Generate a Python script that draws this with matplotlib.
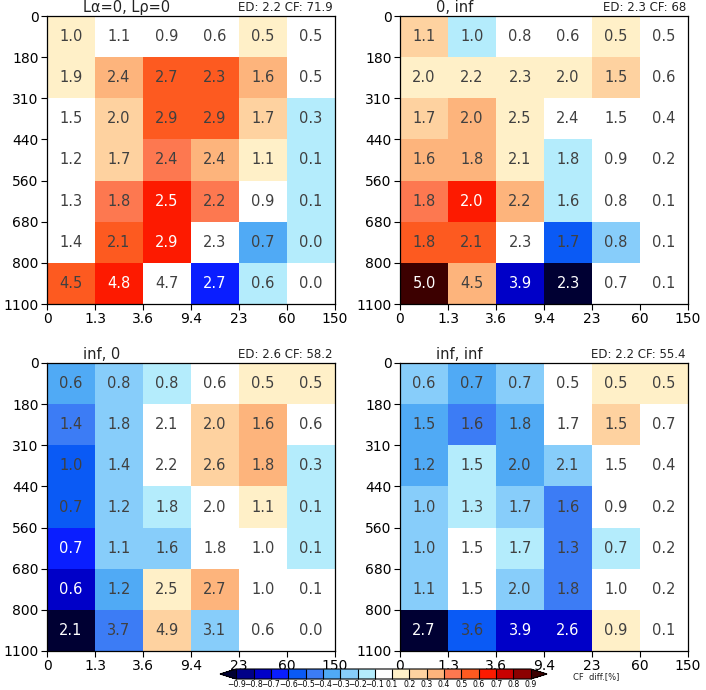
import matplotlib
matplotlib.use("Agg")
import matplotlib.pyplot as plt
from matplotlib.colors import ListedColormap, BoundaryNorm
import numpy as np

x_labels = ["0", "1.3", "3.6", "9.4", "23", "60", "150"]
y_labels = ["0", "180", "310", "440", "560", "680", "800", "1100"]

levels = [-0.9, -0.8, -0.7, -0.6, -0.5, -0.4, -0.3, -0.2, -0.1,
          0.1, 0.2, 0.3, 0.4, 0.5, 0.6, 0.7, 0.8, 0.9]
level_colors = ["#000088", "#0000c8", "#0a1eff", "#0a5af5", "#3c7cf5",
                "#50aaf5", "#87cdfa", "#b4ecfc", "#ffffff", "#fff0c8",
                "#fed2a0", "#fdb47c", "#fd7850", "#fd5a20", "#fd1a00",
                "#c80000", "#8c0000"]
under_color = "#000033"
over_color = "#3c0000"

titles = ["L\u03b1=0, L\u03c1=0", "0, inf", "inf, 0", "inf, inf"]
ed_vals = ["2.2", "2.3", "2.6", "2.2"]
cf_vals = ["71.9", "68", "58.2", "55.4"]

# numbers printed in each cell (rows top to bottom)
text_p1 = [[1.0, 1.1, 0.9, 0.6, 0.5, 0.5],
           [1.9, 2.4, 2.7, 2.3, 1.6, 0.5],
           [1.5, 2.0, 2.9, 2.9, 1.7, 0.3],
           [1.2, 1.7, 2.4, 2.4, 1.1, 0.1],
           [1.3, 1.8, 2.5, 2.2, 0.9, 0.1],
           [1.4, 2.1, 2.9, 2.3, 0.7, 0.0],
           [4.5, 4.8, 4.7, 2.7, 0.6, 0.0]]
text_p2 = [[1.1, 1.0, 0.8, 0.6, 0.5, 0.5],
           [2.0, 2.2, 2.3, 2.0, 1.5, 0.6],
           [1.7, 2.0, 2.5, 2.4, 1.5, 0.4],
           [1.6, 1.8, 2.1, 1.8, 0.9, 0.2],
           [1.8, 2.0, 2.2, 1.6, 0.8, 0.1],
           [1.8, 2.1, 2.3, 1.7, 0.8, 0.1],
           [5.0, 4.5, 3.9, 2.3, 0.7, 0.1]]
text_p3 = [[0.6, 0.8, 0.8, 0.6, 0.5, 0.5],
           [1.4, 1.8, 2.1, 2.0, 1.6, 0.6],
           [1.0, 1.4, 2.2, 2.6, 1.8, 0.3],
           [0.7, 1.2, 1.8, 2.0, 1.1, 0.1],
           [0.7, 1.1, 1.6, 1.8, 1.0, 0.1],
           [0.6, 1.2, 2.5, 2.7, 1.0, 0.1],
           [2.1, 3.7, 4.9, 3.1, 0.6, 0.0]]
text_p4 = [[0.6, 0.7, 0.7, 0.5, 0.5, 0.5],
           [1.5, 1.6, 1.8, 1.7, 1.5, 0.7],
           [1.2, 1.5, 2.0, 2.1, 1.5, 0.4],
           [1.0, 1.3, 1.7, 1.6, 0.9, 0.2],
           [1.0, 1.5, 1.7, 1.3, 0.7, 0.2],
           [1.1, 1.5, 2.0, 1.8, 1.0, 0.2],
           [2.7, 3.6, 3.9, 2.6, 0.9, 0.1]]

# CF differences shading each cell (estimated from the colours)
diff_p1 = [[0.15, 0, 0, 0, 0.15, 0],
           [0.15, 0.35, 0.55, 0.55, 0.35, 0],
           [0, 0.25, 0.55, 0.55, 0.25, -0.15],
           [0, 0.25, 0.45, 0.35, 0.15, -0.15],
           [0, 0.45, 0.65, 0.45, 0, -0.15],
           [0, 0.55, 0.65, 0, -0.35, -0.15],
           [0.55, 0.65, 0, -0.65, -0.15, 0]]
diff_p2 = [[0.25, -0.15, 0, 0, 0.15, 0],
           [0.15, 0.15, 0.15, 0.15, 0.25, 0],
           [0.25, 0.35, 0.15, 0, 0, 0],
           [0.35, 0.35, 0.15, -0.15, 0, 0],
           [0.45, 0.65, 0.35, -0.15, 0, 0],
           [0.55, 0.55, 0, -0.55, -0.25, 0],
           [0.95, 0.35, -0.75, -0.95, 0, 0]]
diff_p3 = [[-0.35, -0.25, -0.15, 0, 0.15, 0.15],
           [-0.45, -0.25, 0, 0.25, 0.35, 0],
           [-0.55, -0.25, 0, 0.25, 0.35, -0.15],
           [-0.55, -0.25, -0.15, 0, 0.15, -0.15],
           [-0.65, -0.25, -0.25, 0, 0, -0.15],
           [-0.75, -0.35, 0.15, 0.35, 0, 0],
           [-0.95, -0.45, 0.25, -0.25, 0, 0]]
diff_p4 = [[-0.25, -0.35, -0.25, 0, 0.15, 0.15],
           [-0.35, -0.45, -0.35, 0, 0.25, 0],
           [-0.35, -0.15, -0.35, -0.25, 0, 0],
           [-0.25, -0.15, -0.25, -0.45, 0, 0],
           [-0.25, 0, -0.15, -0.45, -0.15, 0],
           [-0.25, 0, -0.25, -0.45, 0, 0],
           [-0.95, -0.55, -0.75, -0.75, 0.15, 0]]

texts = [text_p1, text_p2, text_p3, text_p4]
diffs = [diff_p1, diff_p2, diff_p3, diff_p4]

cmap = ListedColormap(level_colors)
cmap.set_under(under_color)
cmap.set_over(over_color)
norm = BoundaryNorm(levels, cmap.N)

fig = plt.figure(figsize=(7.06, 6.90), dpi=100)

W, H = 706, 690
boxes = [(47, 16), (400, 16), (47, 363), (400, 363)]
size = 288

for k in range(4):
    left, top = boxes[k]
    ax = fig.add_axes([left / W, 1 - (top + size) / H, size / W, size / H])
    d = np.array(diffs[k])
    t = np.array(texts[k])
    ax.pcolormesh(np.arange(7), np.arange(8), d, cmap=cmap, norm=norm)
    for i in range(d.shape[0]):
        for j in range(d.shape[1]):
            col = "white" if abs(d[i, j]) >= 0.6 else "#404040"
            ax.text(j + 0.5, i + 0.5, f"{t[i, j]:.1f}", ha="center", va="center",
                    fontsize=10.5, color=col)
    ax.set_xlim(0, 6)
    ax.set_ylim(7, 0)
    ax.set_xticks(range(7))
    ax.set_xticklabels(x_labels, fontsize=10)
    ax.set_yticks(range(8))
    ax.set_yticklabels(y_labels, fontsize=10)
    ax.tick_params(length=4, width=0.8, pad=2)
    for s in ax.spines.values():
        s.set_linewidth(0.9)
    ax.text(0.125, 1.004, titles[k], transform=ax.transAxes, ha="left",
            va="bottom", fontsize=10.5, color="#222222")
    ax.text(0.993, 1.008, f"ED: {ed_vals[k]} CF: {cf_vals[k]}",
            transform=ax.transAxes, ha="right", va="bottom", fontsize=8.5,
            color="#222222")

cax = fig.add_axes([220 / W, 1 - 679 / H, 327 / W, 10 / H])
sm = matplotlib.cm.ScalarMappable(cmap=cmap, norm=norm)
cb = fig.colorbar(sm, cax=cax, orientation="horizontal", extend="both",
                  extendfrac=0.055, spacing="uniform", drawedges=True)
cb.set_ticks(levels)
cb.set_ticklabels([f"{v:.1f}".replace("-", "\u2212") for v in levels])
cb.ax.tick_params(labelsize=5.6, length=0, pad=0.8)
cb.outline.set_linewidth(0.8)
cb.dividers.set_linewidth(0.8)
fig.text(573 / W, 1 - 677 / H, "CF  diff.[%]", fontsize=6, ha="left",
         va="center", color="#222222")

fig.savefig("out.png", dpi=100)
